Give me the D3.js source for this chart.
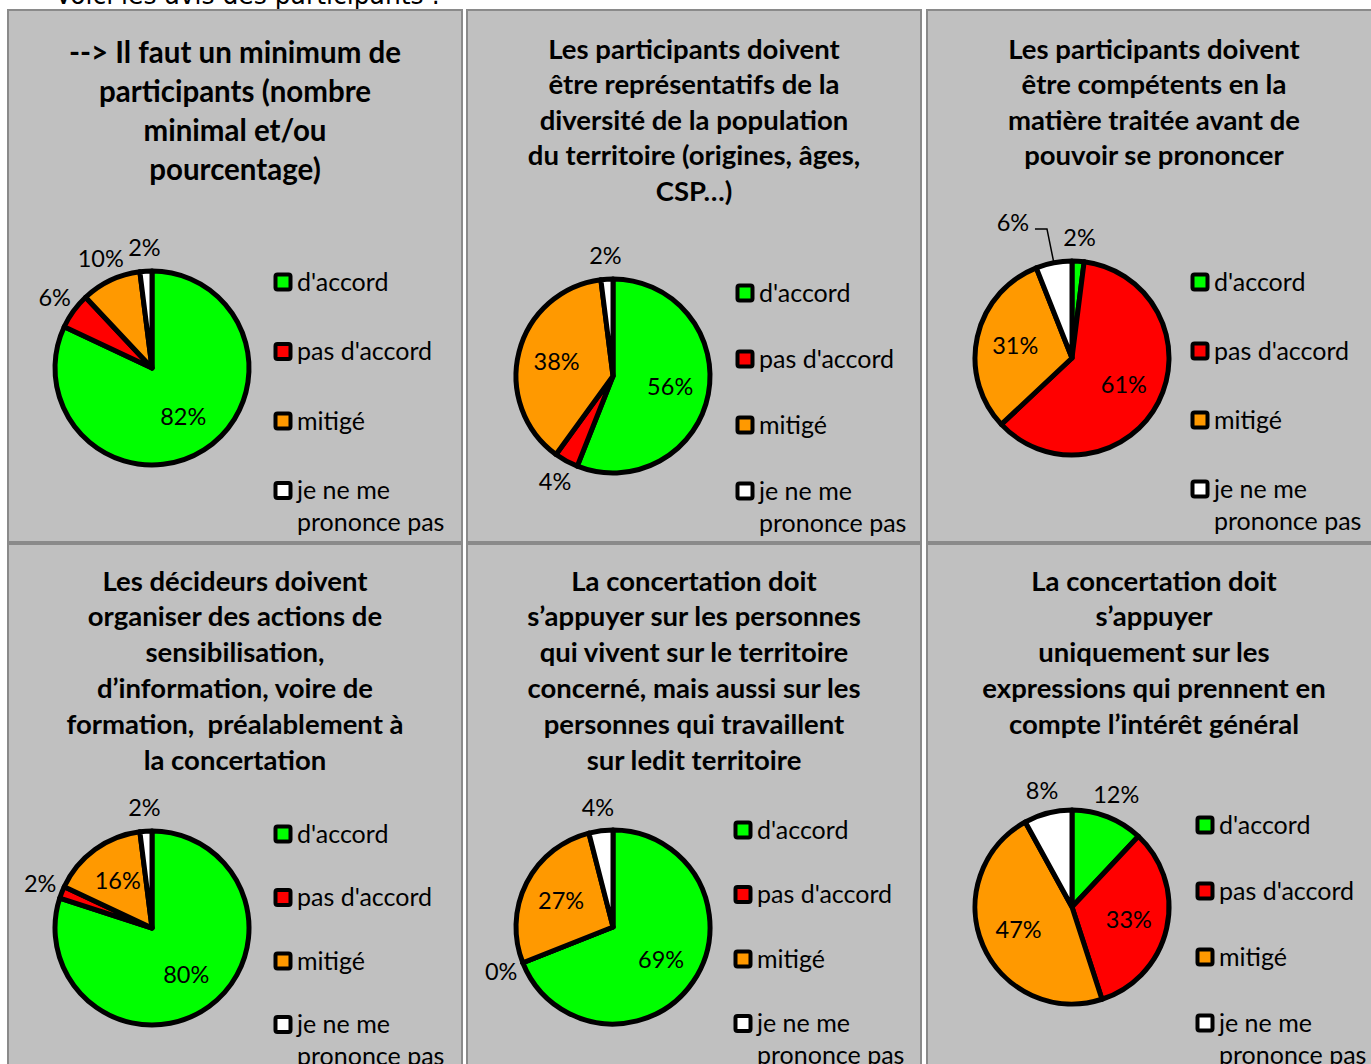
<!DOCTYPE html>
<html>
<head>
<meta charset="utf-8">
<script src="https://cdn.jsdelivr.net/npm/d3@7"></script>
<style>
  body { margin: 0; background: #fff; }
  svg { display: block; }
  text { font-family: Lato, "Open Sans", sans-serif; fill: #000; }
</style>
</head>
<body>
<div id="chart"></div>
<script>
// categories and colours shared by the six pies
var categories = ["d'accord", "pas d'accord", "mitigé", "je ne me prononce pas"];
var sliceColors = ["#00ff00", "#ff0000", "#ff9900", "#ffffff"];

// titles, one line per entry
var titles = [
  ["--> Il faut un minimum de", "participants (nombre", "minimal et/ou", "pourcentage)"],
  ["Les participants doivent", "être représentatifs de la", "diversité de la population", "du territoire (origines, âges,", "CSP…)"],
  ["Les participants doivent", "être compétents en la", "matière traitée avant de", "pouvoir se prononcer"],
  ["Les décideurs doivent", "organiser des actions de", "sensibilisation,", "d’information, voire de", "formation,  préalablement à", "la concertation"],
  ["La concertation doit", "s’appuyer sur les personnes", "qui vivent sur le territoire", "concerné, mais aussi sur les", "personnes qui travaillent", "sur ledit territoire"],
  ["La concertation doit", "s’appuyer", "uniquement sur les", "expressions qui prennent en", "compte l’intérêt général"]
];

// percentages: d'accord, pas d'accord, mitigé, je ne me prononce pas
var values = [
  [82, 6, 10, 2],
  [56, 4, 38, 2],
  [2, 61, 31, 6],
  [80, 2, 16, 2],
  [69, 0, 27, 4],
  [12, 33, 47, 8]
];

var headerText = "Voici les avis des participants :";

// layout of each panel (relative to panel origin)
var layout = [
  { cx: 144, cy: 358, legY: 272, legStep: 69.5, legX: 275, tY: 43, tStep: 39, tSize: 29.5 },
  { cx: 146, cy: 366, legY: 283, legStep: 66, legX: 278, tY: 39, tStep: 35.6, tSize: 27.5 },
  { cx: 145, cy: 348, legY: 272, legStep: 69, legX: 273, tY: 39, tStep: 35.6, tSize: 27.5 },
  { cx: 144, cy: 384, legY: 290, legStep: 63.5, legX: 275, tY: 37, tStep: 35.8, tSize: 27.5 },
  { cx: 146, cy: 383, legY: 286, legStep: 64.5, legX: 276, tY: 37, tStep: 35.8, tSize: 27.5 },
  { cx: 145, cy: 363, legY: 281, legStep: 66, legX: 278, tY: 37, tStep: 35.8, tSize: 27.5 }
];

// label moved off its slice, with a leader line: [panel, slice, angle shift (deg), radius factor]
var movedLabels = [[2, 3, -12.8, 1.52]];

var svgWidth = 1371, svgHeight = 1064;
var panelX = [8, 467, 927], panelY = [10, 544];
var panelW = 454, panelH = 532;
var radius = 97;

var svg = d3.select("#chart")
  .append("svg")
  .attr("width", svgWidth)
  .attr("height", svgHeight);

// header, mostly cut off at the top edge
svg.append("text")
  .attr("x", 55)
  .attr("y", 4)
  .attr("textLength", 385)
  .attr("lengthAdjust", "spacingAndGlyphs")
  .style("font-family", "'DejaVu Sans', sans-serif")
  .style("font-size", "27px")
  .text(headerText);

var pie = d3.pie().sort(null).value(d => d)
  .startAngle(0).endAngle(2 * Math.PI);
var arc = d3.arc().innerRadius(0).outerRadius(radius);

values.forEach(function(vals, i) {
  var L = layout[i];
  var px = panelX[i % 3], py = panelY[Math.floor(i / 3)];

  var g = svg.append("g")
    .attr("transform", `translate(${px}, ${py})`);

  g.append("rect")
    .attr("x", 0).attr("y", 0)
    .attr("width", panelW).attr("height", panelH)
    .attr("fill", "#c0c0c0")
    .attr("stroke", "#8a8a8a")
    .attr("stroke-width", 2);

  // title
  g.selectAll(".title")
    .data(titles[i])
    .enter()
    .append("text")
    .attr("class", "title")
    .attr("x", panelW / 2)
    .attr("y", (d, k) => L.tY + k * L.tStep)
    .attr("dy", "0.35em")
    .attr("text-anchor", "middle")
    .style("font-weight", "bold")
    .style("font-size", L.tSize + "px")
    .style("white-space", "pre")
    .text(d => d);

  // pie
  var pieG = g.append("g")
    .attr("transform", `translate(${L.cx}, ${L.cy})`);

  var arcs = pie(vals);

  pieG.selectAll("path")
    .data(arcs)
    .enter()
    .append("path")
    .attr("d", arc)
    .attr("fill", (d, k) => sliceColors[k])
    .attr("stroke", "#000")
    .attr("stroke-width", 5)
    .attr("stroke-linejoin", "round");

  // percentage labels
  pieG.selectAll(".pct")
    .data(arcs)
    .enter()
    .append("text")
    .attr("class", "pct")
    .attr("transform", function(d, k) {
      var mid = (d.startAngle + d.endAngle) / 2;
      var r = d.value >= 16 ? radius * 0.6 : radius * 1.24;
      var moved = movedLabels.find(m => m[0] === i && m[1] === k);
      if (moved) {
        mid += moved[2] * Math.PI / 180;
        r = radius * moved[3];
      }
      return `translate(${Math.sin(mid) * r}, ${-Math.cos(mid) * r})`;
    })
    .attr("dy", "0.35em")
    .attr("text-anchor", "middle")
    .style("font-size", "23.5px")
    .text(d => d.value + "%");

  // leader lines for moved labels
  movedLabels.filter(m => m[0] === i).forEach(function(m) {
    var d = arcs[m[1]];
    var mid = (d.startAngle + d.endAngle) / 2;
    var lm = mid + m[2] * Math.PI / 180;
    var lx = Math.sin(lm) * radius * m[3], ly = -Math.cos(lm) * radius * m[3];
    var ex = Math.sin(mid) * radius, ey = -Math.cos(mid) * radius;
    pieG.append("path")
      .attr("d", `M${lx + 22},${ly + 6}H${lx + 34}L${ex},${ey}`)
      .attr("fill", "none")
      .attr("stroke", "#000")
      .attr("stroke-width", 1.5);
  });

  // legend
  var leg = g.selectAll(".leg")
    .data(categories)
    .enter()
    .append("g")
    .attr("class", "leg")
    .attr("transform", (d, k) => `translate(${L.legX}, ${L.legY + k * L.legStep})`);

  leg.append("rect")
    .attr("x", -7.5).attr("y", -7.5)
    .attr("width", 15).attr("height", 15)
    .attr("rx", 2)
    .attr("fill", (d, k) => sliceColors[k])
    .attr("stroke", "#000")
    .attr("stroke-width", 4);

  leg.append("text")
    .attr("x", 14)
    .attr("dy", "0.35em")
    .style("font-size", "25px")
    .each(function(d) {
      var t = d3.select(this);
      var lines = d === "je ne me prononce pas" ? ["je ne me", "prononce pas"] : [d];
      lines.forEach(function(s, n) {
        t.append("tspan")
          .attr("x", 14)
          .attr("dy", n === 0 ? "0.35em" : "1.28em")
          .text(s);
      });
    });
});
</script>
</body>
</html>
